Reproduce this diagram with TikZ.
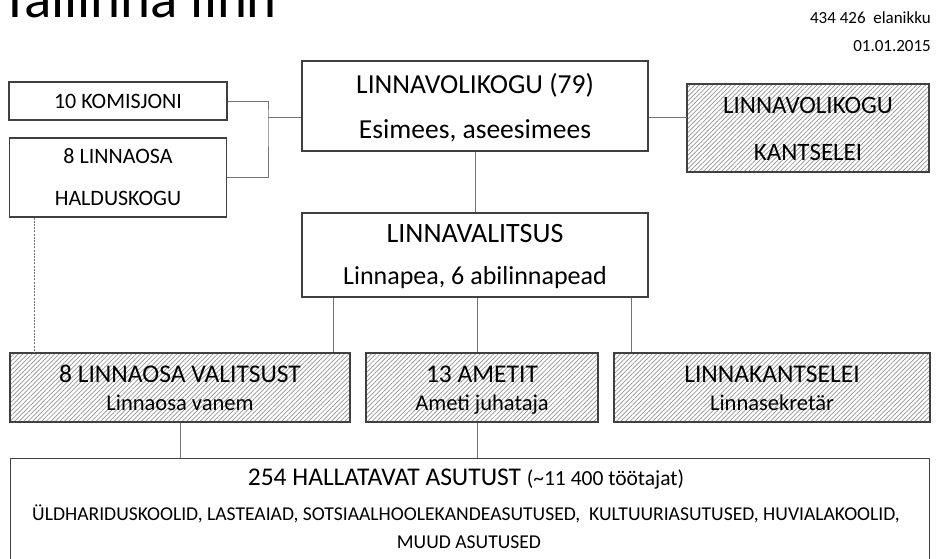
\documentclass[tikz,border=0pt]{standalone}
\usepackage{fontspec}
\setmainfont{Carlito}
\usetikzlibrary{patterns.meta,calc}

\definecolor{boxline}{rgb}{0.25,0.25,0.25}
\definecolor{linkline}{rgb}{0.45,0.45,0.45}
\tikzset{
  orgbox/.style={draw=boxline,line width=1.2pt,fill=white},
  hatchbox/.style={draw=boxline,line width=1.2pt,
    pattern={Lines[angle=45,distance=3.2pt,line width=0.7pt]},pattern color=black!42},
  link/.style={draw=linkline,line width=0.9pt},
  dotlink/.style={draw=linkline,line width=0.9pt,dash pattern=on 2pt off 1.2pt},
  headtxt/.style={anchor=base,font=\fontsize{27.5}{30}\selectfont},
  midtxt/.style={anchor=base,font=\fontsize{25.5}{28}\selectfont},
  subtxt/.style={anchor=base,font=\fontsize{22.5}{24}\selectfont},
  smalltxt/.style={anchor=base,font=\fontsize{22}{24}\selectfont},
}

\begin{document}
\begin{tikzpicture}[x=1pt,y=-1pt]
\useasboundingbox (0,0) rectangle (936,558);
\clip (0,0) rectangle (936,558);

% title and date
\node[anchor=base west,inner sep=0pt,font=\fontsize{57}{60}\selectfont] (title) at (1,17) {Tallinna linn};
\node[anchor=base east,inner sep=0pt,font=\fontsize{17}{20}\selectfont] (pop) at (931,23) {434 426\ \ elanikku};
\node[anchor=base east,inner sep=0pt,font=\fontsize{17}{20}\selectfont] (date) at (931,51) {01.01.2015};

% boxes
\node[orgbox,minimum width=218pt,minimum height=38pt] (komisjon) at (118,101) {};
\node[orgbox,minimum width=217pt,minimum height=79pt] (haldus) at (118,177.5) {};
\node[orgbox,minimum width=346pt,minimum height=90pt] (volikogu) at (475,106) {};
\node[hatchbox,minimum width=242pt,minimum height=88pt] (vkants) at (808,128) {};
\node[orgbox,minimum width=346pt,minimum height=84pt] (valitsus) at (475,255) {};
\node[hatchbox,minimum width=340pt,minimum height=69pt] (osavalits) at (180,387.5) {};
\node[hatchbox,minimum width=232pt,minimum height=69pt] (ametit) at (482,387.5) {};
\node[hatchbox,minimum width=316pt,minimum height=69pt] (lkants) at (772,387.5) {};
\node[orgbox,minimum width=919pt,minimum height=120pt,anchor=north west] (asutus) at (10,458) {};

% texts
\node[smalltxt] at (118,108) {10 KOMISJONI};
\node[smalltxt] at (118,163) {8 LINNAOSA};
\node[smalltxt] at (118,205) {HALDUSKOGU};
\node[headtxt] at (475,93) {LINNAVOLIKOGU (79)};
\node[headtxt] at (475,138) {Esimees, aseesimees};
\node[midtxt,font=\fontsize{25}{28}\selectfont] at (808,113) {LINNAVOLIKOGU};
\node[midtxt,font=\fontsize{25}{28}\selectfont] at (808,160) {KANTSELEI};
\node[headtxt,font=\fontsize{28}{30}\selectfont] at (475,242) {LINNAVALITSUS};
\node[headtxt,font=\fontsize{26}{30}\selectfont] at (475,284) {Linnapea, 6 abilinnapead};
\node[midtxt] at (180,382) {8 LINNAOSA VALITSUST};
\node[subtxt] at (180,410) {Linnaosa vanem};
\node[midtxt] at (482,382) {13 AMETIT};
\node[subtxt] at (482,410) {Ameti juhataja};
\node[midtxt] at (772,382) {LINNAKANTSELEI};
\node[subtxt] at (772,410) {Linnasekretär};
\node[midtxt] at (466,485) {254 HALLATAVAT ASUTUST {\fontsize{21.5}{24}\selectfont(\textasciitilde11 400 töötajat)}};
\node[subtxt,font=\fontsize{19.6}{22}\selectfont] at (466,520) {ÜLDHARIDUSKOOLID, LASTEAIAD, SOTSIAALHOOLEKANDEASUTUSED,\ \ KULTUURIASUTUSED, HUVIALAKOOLID,};
\node[subtxt,font=\fontsize{19.6}{22}\selectfont] at (469,548) {MUUD ASUTUSED};

% connectors
\coordinate (brk) at (268,117);
\draw[link] (komisjon.east) -| (brk) |- (haldus.east);
\draw[link] (brk) -- (brk -| volikogu.west);
\draw[link] (volikogu.east |- brk) -- (vkants.west |- brk);
\draw[link] (volikogu.south) -- (valitsus.north);
\draw[link] ([xshift=-142pt]valitsus.south) coordinate (v1) -- (v1 |- osavalits.north);
\draw[link] ([xshift=2pt]valitsus.south) coordinate (v2) -- (v2 |- ametit.north);
\draw[link] ([xshift=156pt]valitsus.south) coordinate (v3) -- (v3 |- lkants.north);
\draw[dotlink] ([xshift=26pt]haldus.south west) coordinate (h1) -- (h1 |- osavalits.north);
\draw[link] (osavalits.south) -- (osavalits.south |- asutus.north);
\draw[link] ([xshift=-5pt]ametit.south) coordinate (a1) -- (a1 |- asutus.north);
\end{tikzpicture}
\end{document}
